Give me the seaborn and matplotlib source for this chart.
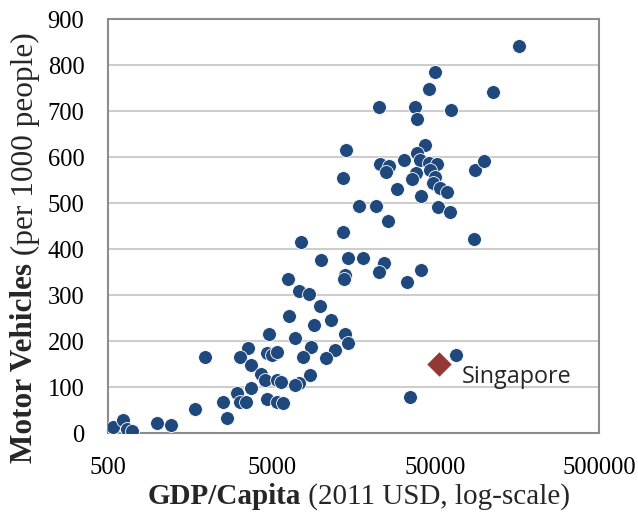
import numpy as np
import pandas as pd
import matplotlib
matplotlib.use("Agg")
import matplotlib.pyplot as plt
import matplotlib.ticker as mticker
import seaborn as sns

# GDP per capita (2011 USD) and motor vehicles per 1000 people
gdp = [162700, 50000, 45900, 112900, 22500, 37400, 38400, 62000, 14200, 13600,
       43400, 38800, 40300, 45500, 50900, 46400, 50000, 48600, 53300, 59100,
       51800, 61400, 22900, 26100, 25000, 32100, 38000, 36000, 29300, 41000,
       87700, 99100, 17100, 21700, 25700, 13700, 86100, 14600, 18000, 24300,
       22500, 14000, 13800, 33400, 41000, 11600, 14000, 14600, 12200, 10700,
       66800, 35000, 7600, 10050, 6300, 7300, 8400, 9860, 6400, 9060,
       4800, 6900, 3600, 3200, 1960, 4660, 5020, 5370, 8700, 7730,
       3750, 4320, 4570, 5370, 5680, 8570, 7310, 6970, 3060, 3720,
       2510, 3200, 3480, 4660, 5410, 5840, 1690, 2660, 1000, 1220,
       538, 620, 650, 700]
vehicles = [842, 785, 747, 741, 709, 709, 683, 702, 615, 554,
            627, 609, 593, 586, 585, 572, 557, 543, 532, 525,
            491, 480, 585, 581, 568, 593, 565, 552, 530, 515,
            572, 591, 494, 494, 461, 438, 422, 381, 381, 370,
            351, 343, 334, 329, 354, 245, 216, 196, 180, 163,
            170, 78, 416, 376, 335, 309, 302, 276, 254, 235,
            215, 206, 185, 165, 165, 175, 169, 176, 187, 166,
            148, 128, 115, 115, 111, 127, 109, 104, 88, 98,
            67, 67, 67, 73, 67, 65, 52, 32, 22, 17,
            12, 28, 8, 5]

singapore_gdp = [52600]
singapore_veh = [150]

x_ticks = [500, 5000, 50000, 500000]
y_ticks = list(range(0, 901, 100))

sns.set_theme(style="white")
plt.rcParams['font.family'] = ['Liberation Serif', 'DejaVu Serif']

df = pd.DataFrame({"gdp": gdp, "vehicles": vehicles})
sg = pd.DataFrame({"gdp": singapore_gdp, "vehicles": singapore_veh})

fig = plt.figure(figsize=(6.38, 5.14), dpi=100)
ax = fig.add_axes([108 / 638, 1 - 433 / 514, 491 / 638, 414 / 514])

sns.scatterplot(data=df, x="gdp", y="vehicles", ax=ax, color="#1F497D",
                s=100, edgecolor="white", linewidth=0.6, zorder=3)
sns.scatterplot(data=sg, x="gdp", y="vehicles", ax=ax, color="#953735",
                marker="D", s=170, edgecolor="white", linewidth=0.6, zorder=4)

ax.set_xscale("log")
ax.set_xlim(500, 500000)
ax.set_ylim(0, 900)
ax.xaxis.set_major_locator(mticker.FixedLocator(x_ticks))
ax.xaxis.set_major_formatter(mticker.FixedFormatter([str(v) for v in x_ticks]))
minor_x = [b * k for b in [500, 5000, 50000] for k in range(2, 10)]
ax.xaxis.set_minor_locator(mticker.FixedLocator(minor_x))
ax.xaxis.set_minor_formatter(mticker.NullFormatter())
ax.yaxis.set_major_locator(mticker.FixedLocator(y_ticks))
ax.yaxis.set_minor_locator(mticker.MultipleLocator(20))

for sp in ax.spines.values():
    sp.set_visible(True)
    sp.set_color("#8C8C8C")
    sp.set_linewidth(1.5)

ax.tick_params(axis="both", which="both", direction="in", color="#8C8C8C",
               labelsize=17.7, labelcolor="black")
ax.tick_params(axis="y", which="major", length=6, width=1.2, pad=17)
ax.tick_params(axis="y", which="minor", length=4, width=1.0)
ax.tick_params(axis="x", which="major", length=7, width=1.2, pad=17)
ax.tick_params(axis="x", which="minor", length=4, width=1.0)
ax.set_xlabel("")
ax.set_ylabel("")

ax.set_axisbelow(True)
ax.yaxis.grid(True, which="major", color="#C8C8C8", linewidth=1.3)
ax.xaxis.grid(False)

ax.annotate("Singapore", xy=(singapore_gdp[0], singapore_veh[0]),
            xytext=(23, -13), textcoords="offset pixels",
            ha="left", va="center", fontsize=16.8, family="Open Sans",
            color="#262626")

# axis titles with mixed weights
t1 = fig.text(148 / 638, 4 / 514, "GDP/Capita", fontsize=21,
              fontweight="bold", ha="left", va="bottom")
ax.annotate(" (2011 USD, log-scale)", xy=(1, 0), xycoords=t1,
            fontsize=21, ha="left", va="bottom")
t2 = fig.text(25 / 638, 1 - 463 / 514, "Motor Vehicles", fontsize=22.5,
              fontweight="bold", rotation=90, ha="center", va="bottom")
ax.annotate(" (per 1000 people)", xy=(0.5, 1), xycoords=t2,
            fontsize=22.5, rotation=90, ha="center", va="bottom")

fig.savefig("out.png", dpi=100)
